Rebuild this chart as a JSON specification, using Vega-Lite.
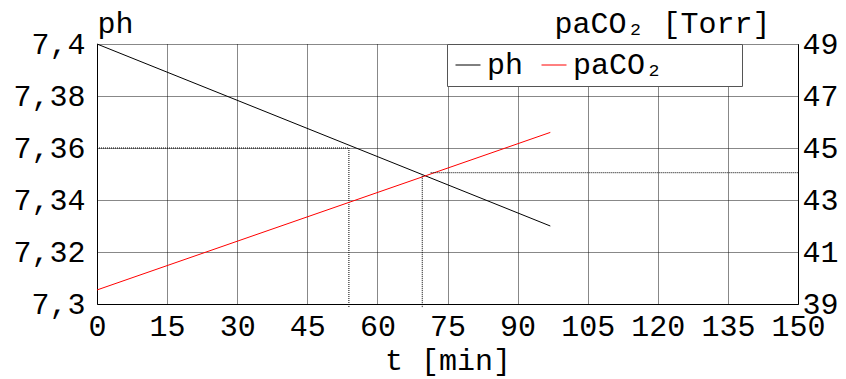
{
  "$schema": "https://vega.github.io/schema/vega-lite/v6.json",
  "width": 701,
  "height": 260,
  "autosize": {"type": "none"},
  "padding": {"left": 97, "top": 44, "right": 48, "bottom": 75},
  "background": "white",
  "config": {
    "view": {"stroke": null},
    "font": "Liberation Mono",
    "axis": {
      "labelFont": "Liberation Mono",
      "titleFont": "Liberation Mono",
      "labelFontSize": 30,
      "titleFontSize": 30,
      "titleFontWeight": "normal",
      "labelColor": "#000",
      "titleColor": "#000",
      "domainColor": "#000",
      "domainWidth": 1,
      "ticks": false,
      "tickSize": 0,
      "labelFlush": false,
      "labelOverlap": false,
      "gridColor": "#111",
      "gridDash": [1, 1],
      "gridWidth": 1,
      "gridOpacity": 1
    }
  },
  "datasets": {
    "main": [
      {"series": "ph", "t": 0, "value": 7.4},
      {"series": "ph", "t": 97, "value": 7.33},
      {"series": "paCO₂", "t": 0, "value": 39.54},
      {"series": "paCO₂", "t": 97, "value": 45.6}
    ],
    "phRefs": [
      {"seg": "a", "t": 0, "value": 7.36},
      {"seg": "a", "t": 53.9, "value": 7.36},
      {"seg": "b", "t": 53.9, "value": 7.36},
      {"seg": "b", "t": 53.9, "value": 7.2985}
    ],
    "co2Refs": [
      {"seg": "c", "t": 71.4, "value": 44.05},
      {"seg": "c", "t": 150, "value": 44.05},
      {"seg": "d", "t": 69.6, "value": 43.93},
      {"seg": "d", "t": 69.6, "value": 38.85}
    ]
  },
  "layer": [
    {
      "layer": [
        {
          "data": {"name": "main"},
          "transform": [{"filter": "datum.series == 'ph'"}],
          "mark": {"type": "line", "strokeWidth": 1},
          "encoding": {
            "x": {
              "field": "t", "type": "quantitative",
              "scale": {"domain": [0, 150], "nice": false, "zero": false},
              "axis": {
                "values": [0, 15, 30, 45, 60, 75, 90, 105, 120, 135, 150],
                "grid": true,
                "labelPadding": 7,
                "title": "t [min]",
                "titleY": 65,
                "titleBaseline": "alphabetic"
              }
            },
            "y": {
              "field": "value", "type": "quantitative",
              "scale": {"domain": [7.3, 7.4], "nice": false, "zero": false},
              "axis": {
                "values": [7.3, 7.32, 7.34, 7.36, 7.38, 7.4],
                "grid": true,
                "labelPadding": 12,
                "labelExpr": "replace(format(datum.value, '.3~f'), '.', ',')",
                "title": "ph",
                "titleAngle": 0,
                "titleX": 0,
                "titleY": -12,
                "titleAlign": "left",
                "titleBaseline": "alphabetic"
              }
            },
            "color": {
              "field": "series", "type": "nominal",
              "scale": {"domain": ["ph", "paCO₂"], "range": ["#000000", "#ff0000"]},
              "legend": {
                "title": null,
                "orient": "none",
                "legendX": 350,
                "legendY": 0,
                "direction": "horizontal",
                "columns": 2,
                "symbolType": "stroke",
                "symbolSize": 625,
                "symbolStrokeWidth": 1,
                "labelFont": "Liberation Mono",
                "labelFontSize": 30,
                "labelColor": "#000",
                "labelOffset": 4,
                "labelLimit": 0,
                "columnPadding": 15,
                "padding": 6,
                "strokeColor": "#555",
                "fillColor": "white",
                "labelExpr": "datum.value == 'ph' ? 'ph' : 'paCO₂\u00a0\u00a0\u00a0\u00a0\u200b'"
              }
            }
          }
        },
        {
          "data": {"name": "phRefs"},
          "mark": {"type": "line", "strokeWidth": 1, "color": "#000", "strokeDash": [1, 1]},
          "encoding": {
            "x": {"field": "t", "type": "quantitative"},
            "y": {"field": "value", "type": "quantitative"},
            "detail": {"field": "seg"}
          }
        }
      ]
    },
    {
      "layer": [
        {
          "data": {"name": "main"},
          "transform": [{"filter": "datum.series == 'paCO₂'"}],
          "mark": {"type": "line", "strokeWidth": 1},
          "encoding": {
            "x": {"field": "t", "type": "quantitative"},
            "y": {
              "field": "value", "type": "quantitative",
              "scale": {"domain": [39, 49], "nice": false, "zero": false},
              "axis": {
                "orient": "right",
                "values": [39, 41, 43, 45, 47, 49],
                "grid": false,
                "labelPadding": 4,
                "title": "paCO₂ [Torr]",
                "titleAngle": 0,
                "titleX": -28,
                "titleY": -12,
                "titleAlign": "right",
                "titleBaseline": "alphabetic"
              }
            },
            "color": {"field": "series", "type": "nominal"}
          }
        },
        {
          "data": {"name": "co2Refs"},
          "mark": {"type": "line", "strokeWidth": 1, "color": "#000", "strokeDash": [1, 1]},
          "encoding": {
            "x": {"field": "t", "type": "quantitative"},
            "y": {"field": "value", "type": "quantitative"},
            "detail": {"field": "seg"}
          }
        }
      ]
    }
  ],
  "resolve": {"scale": {"y": "independent"}}
}
